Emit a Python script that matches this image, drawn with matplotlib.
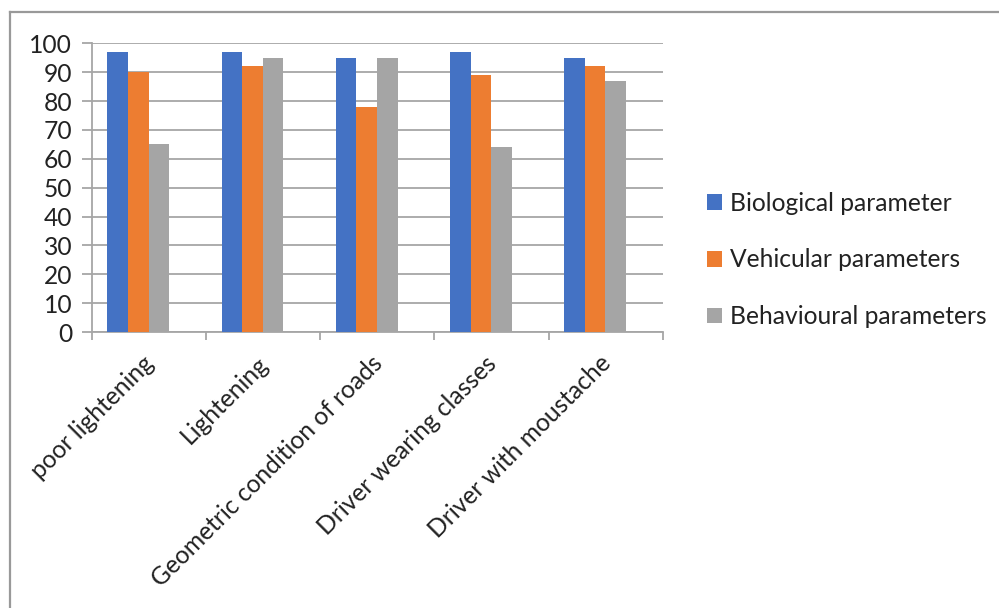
import matplotlib.pyplot as plt
from matplotlib.lines import Line2D
import numpy as np

plt.rcParams['font.family'] = ['Lato', 'DejaVu Sans']

categories = ["poor lightening", "Lightening", "Geometric condition of roads",
              "Driver wearing classes", "Driver with moustache"]
biological = [97, 97, 95, 97, 95]
vehicular = [90, 92, 78, 89, 92]
behavioural = [65, 95, 95, 64, 87]

series_names = ["Biological parameter", "Vehicular parameters", "Behavioural parameters"]
colors = ["#4472C4", "#ED7D31", "#A5A5A5"]
grid_color = "#a6a6a6"
text_color = "#222222"
fs = 17.7

W, H = 999, 608
fig = plt.figure(figsize=(W / 100, H / 100), dpi=100)
ax = fig.add_axes([91.7 / W, 1 - 332 / H, (662.7 - 91.7) / W, (332 - 43.3) / H])

x = np.arange(len(categories))
shift = 0.092  # bar groups sit a little left of the category centre
bw = 0.18
for k, (vals, name, c) in enumerate(zip([biological, vehicular, behavioural], series_names, colors)):
    ax.bar(x + (k - 1) * bw, vals, width=bw, color=c, label=name, zorder=3)

ax.set_xlim(-0.5 + shift, len(categories) - 0.5 + shift)
ax.set_ylim(0, 100)
ax.set_yticks(range(0, 101, 10))
ax.yaxis.grid(True, color=grid_color, linewidth=1.3, zorder=0)

# rotated category labels; boundary tick marks drawn as minor ticks
ax.set_xticks(x + shift - 0.06)
ax.set_xticklabels(categories, rotation=45, ha='right', rotation_mode='anchor', fontsize=fs,
                   color=text_color)
ax.set_xticks(np.arange(len(categories) + 1) - 0.5 + shift, minor=True)
ax.tick_params(axis='x', which='major', length=0, pad=14)
ax.tick_params(axis='x', which='minor', length=6, color=grid_color, width=1.3)
ax.tick_params(axis='y', length=7, color=grid_color, width=1.3, labelsize=fs,
               labelcolor=text_color, pad=7)

for side in ['top', 'right']:
    ax.spines[side].set_visible(False)
for side in ['left', 'bottom']:
    ax.spines[side].set_color(grid_color)
    ax.spines[side].set_linewidth(1.3)

ax.legend(loc='center left', bbox_to_anchor=(685 / W, 1 - 260 / H),
          bbox_transform=fig.transFigure, frameon=False, fontsize=fs,
          handlelength=0.62, handleheight=0.62, handletextpad=0.3,
          labelspacing=1.37, labelcolor=text_color)

# outer chart frame, cut off at the right and bottom
fig.add_artist(Line2D([9.5 / W, 9.5 / W], [0, 1 - 12 / H], color='#999999', linewidth=1.6))
fig.add_artist(Line2D([9.5 / W, 1], [1 - 12 / H, 1 - 12 / H], color='#999999', linewidth=1.6))

fig.savefig("out.png", dpi=100)
